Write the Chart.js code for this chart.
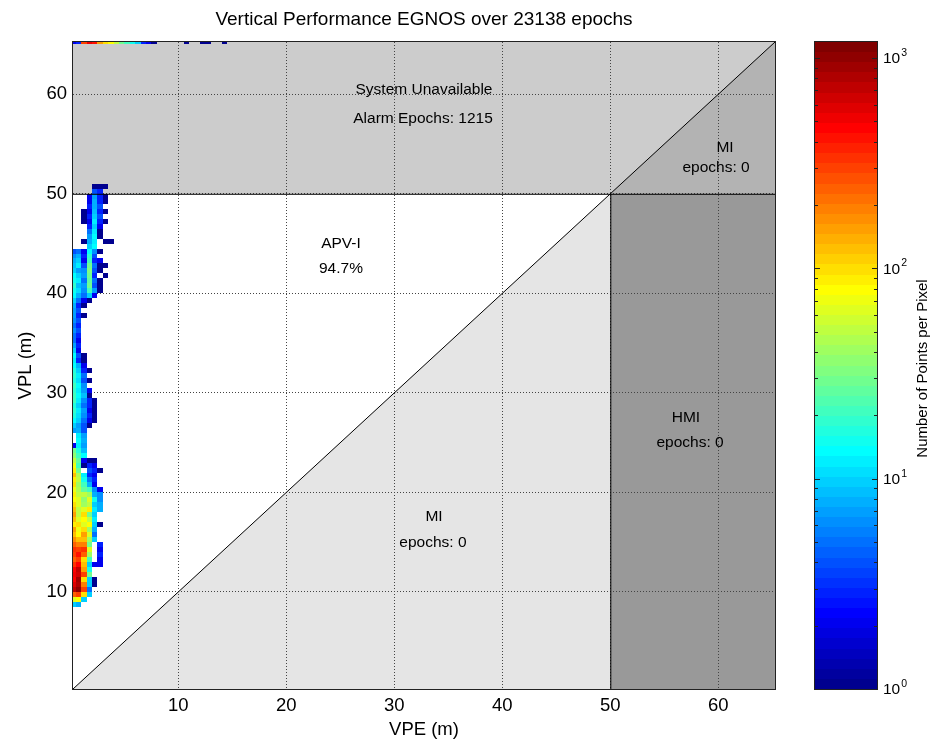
<!DOCTYPE html>
<html><head><meta charset="utf-8">
<script src="https://cdn.jsdelivr.net/npm/chart.js@4.4.1/dist/chart.umd.min.js"></script>
<style>
html,body{margin:0;padding:0;background:#fff;}
#wrap{position:relative;width:937px;height:744px;overflow:hidden;}
#wrap canvas{position:absolute;left:0;top:0;}
</style></head><body>
<div id="wrap"><canvas id="main" width="937" height="744"></canvas><canvas id="cbar" width="937" height="744"></canvas></div>
<script>
// ---------------- data ----------------
const chartTitle = 'Vertical Performance EGNOS over 23138 epochs';
const xLabel = 'VPE (m)';
const yLabel = 'VPL (m)';
const cbarLabel = 'Number of Points per Pixel';
const axisMin = 0.25, axisMax = 65.25;
const alarmLimit = 50;
const xTicks = [10, 20, 30, 40, 50, 60];
const yTicks = [10, 20, 30, 40, 50, 60];
const cbarExponents = [0, 1, 2, 3];
const cbarMin = 1, cbarMax = 1190;
const binSize = 0.5;

// heat map: column lower edges (VPE, m) and row lower edges (VPL, m)
const vpeCols = [0, 0.5, 1.0, 1.5, 2.0, 2.5, 3.0, 3.5];
const vplRows = [50.5, 50.0, 49.5, 49.0, 48.5, 48.0, 47.5, 47.0, 46.5, 46.0,
  45.5, 45.0, 44.5, 44.0, 43.5, 43.0, 42.5, 42.0, 41.5, 41.0,
  40.5, 40.0, 39.5, 39.0, 38.5, 38.0, 37.5, 37.0, 36.5, 36.0,
  35.5, 35.0, 34.5, 34.0, 33.5, 33.0, 32.5, 32.0, 31.5, 31.0,
  30.5, 30.0, 29.5, 29.0, 28.5, 28.0, 27.5, 27.0, 26.5, 26.0,
  25.5, 25.0, 24.5, 24.0, 23.5, 23.0, 22.5, 22.0, 21.5, 21.0,
  20.5, 20.0, 19.5, 19.0, 18.5, 18.0, 17.5, 17.0, 16.5, 16.0,
  15.5, 15.0, 14.5, 14.0, 13.5, 13.0, 12.5, 12.0, 11.5, 11.0,
  10.5, 10.0, 9.5, 9.0, 8.5];
const rowCounts = [
  [0,0,0,0,1,1,1,0],[0,0,0,0,4,3,0,0],[0,0,0,2,7,3,1,0],[0,0,0,2,8,3,1,0],[0,0,0,3,8,4,0,0],
  [0,0,1,2,9,3,1,0],[0,0,1,3,10,4,0,0],[0,0,1,2,12,3,1,0],[0,0,0,3,10,2,0,0],[0,0,0,5,12,1,0,0],
  [0,0,0,7,14,1,0,0],[0,0,1,8,12,0,1,1],[0,0,0,10,14,0,0,0],[4,5,2,14,6,1,0,0],[6,8,3,18,4,0,0,0],
  [8,10,2,22,3,2,0,0],[9,12,4,28,5,1,1,0],[10,7,6,32,4,1,0,0],[13,10,7,30,3,0,1,0],[15,12,5,25,5,1,0,0],
  [18,9,7,28,4,1,0,0],[15,11,6,20,7,1,0,0],[13,8,5,10,2,0,0,0],[10,5,2,1,0,0,0,0],[8,3,1,0,0,0,0,0],
  [7,4,0,0,0,0,0,0],[7,3,1,0,0,0,0,0],[6,4,0,0,0,0,0,0],[5,3,0,0,0,0,0,0],[6,4,0,0,0,0,0,0],
  [5,3,0,0,0,0,0,0],[5,2,0,0,0,0,0,0],[7,3,0,0,0,0,0,0],[10,2,0,0,0,0,0,0],[13,4,1,0,0,0,0,0],
  [12,3,1,0,0,0,0,0],[14,8,2,0,0,0,0,0],[16,10,3,1,0,0,0,0],[18,12,5,0,0,0,0,0],[16,11,4,1,0,0,0,0],
  [20,13,6,0,0,0,0,0],[18,12,7,2,0,0,0,0],[22,14,9,1,0,0,0,0],[20,12,6,3,1,0,0,0],[16,10,5,3,1,0,0,0],
  [18,12,7,2,1,0,0,0],[16,11,6,3,1,0,0,0],[13,10,5,2,1,0,0,0],[10,7,4,1,0,0,0,0],[7,8,4,0,0,0,0,0],
  [0,12,7,0,0,0,0,0],[0,14,8,0,0,0,0,0],[2,12,7,0,0,0,0,0],[28,17,9,0,0,0,0,0],[38,22,13,0,0,0,0,0],
  [50,25,2,1,1,0,0,0],[70,20,1,3,2,0,0,0],[90,30,0,4,3,1,0,0],[120,45,12,3,2,0,0,0],[90,50,15,5,3,0,0,0],
  [100,40,20,8,2,0,0,0],[70,45,25,20,6,2,0,0],[90,50,50,40,8,6,0,0],[80,60,35,60,15,6,0,0],[100,60,40,50,10,8,0,0],
  [120,50,60,90,12,8,0,0],[150,50,100,30,10,0,0,0],[130,60,80,50,12,0,0,0],[90,100,60,80,10,1,0,0],[150,70,100,40,8,0,0,0],
  [120,80,150,60,5,0,0,0],[180,120,120,40,10,0,0,0],[250,200,200,30,0,3,0,0],[350,300,350,60,0,2,0,0],[300,400,250,40,0,3,0,0],
  [250,300,100,20,0,2,0,0],[350,450,120,10,2,2,0,0],[450,700,150,15,0,0,0,0],[500,650,300,30,0,0,0,0],[450,900,100,10,1,0,0,0],
  [550,800,200,10,1,0,0,0],[700,1000,300,5,0,0,0,0],[250,300,100,10,0,0,0,0],[60,80,10,0,0,0,0,0],[10,8,0,0,0,0,0,0]
];
// points beyond the plot top, clipped into the VPL = 65 row
const topRowVpl = 65;
const topVpe = [0, 0.5, 1.0, 1.5, 2.0, 2.5, 3.0, 3.5, 4.0, 4.5, 5.0, 5.5, 6.0, 6.5, 7.0, 7.5, 10.5, 12.0, 12.5, 14.0];
const topCounts = [2, 3, 300, 500, 400, 150, 100, 80, 50, 30, 20, 15, 10, 3, 2, 1, 1, 1, 1, 1];

// region annotations
const noteTexts = ['System Unavailable', 'Alarm Epochs: 1215', 'APV-I', '94.7%', 'MI', 'epochs: 0', 'HMI', 'epochs: 0', 'MI', 'epochs: 0'];
const noteVpe = [32.75, 32.66, 25.06, 25.06, 60.62, 59.79, 57.0, 57.38, 33.68, 33.58];
const noteVpl = [60.6, 57.6, 45.06, 42.55, 54.7, 52.69, 27.57, 25.06, 17.63, 15.02];

// ---------------- helpers ----------------
const FONT = '"Liberation Sans", Arial, Helvetica, sans-serif';
function jetMap(n) {
  const m = Math.ceil(n / 4);
  const u = [];
  for (let i = 1; i <= m; i++) u.push(i / m);
  for (let i = 1; i < m; i++) u.push(1);
  for (let i = m; i >= 1; i--) u.push(i / m);
  const off = Math.ceil(m / 2) - (n % 4 === 1 ? 1 : 0);
  const J = Array.from({length: n}, () => [0, 0, 0]);
  u.forEach((val, i) => {
    const g = off + i + 1, r = g + m, b = g - m;
    if (r >= 1 && r <= n) J[r - 1][0] = val;
    if (g >= 1 && g <= n) J[g - 1][1] = val;
    if (b >= 1 && b <= n) J[b - 1][2] = val;
  });
  return J.map(c => `rgb(${Math.round(c[0]*255)},${Math.round(c[1]*255)},${Math.round(c[2]*255)})`);
}
const JET = jetMap(64);
const LMAX = Math.log10(cbarMax);
function colorFor(c) {
  const t = Math.log10(c) / LMAX;
  return JET[Math.max(0, Math.min(63, Math.floor(t * 64)))];
}

// ---------------- main chart ----------------
const regionPlugin = {
  id: 'regions',
  beforeDraw(chart) {
    const {ctx, scales: {x, y}} = chart;
    ctx.save();
    ctx.fillStyle = '#fff';
    ctx.fillRect(0, 0, chart.width, chart.height);
    const poly = (pts, col) => {
      ctx.beginPath();
      pts.forEach((p, i) => {
        const px = x.getPixelForValue(p[0]), py = y.getPixelForValue(p[1]);
        if (i) ctx.lineTo(px, py); else ctx.moveTo(px, py);
      });
      ctx.closePath(); ctx.fillStyle = col; ctx.fill();
    };
    const L = alarmLimit;
    poly([[axisMin, L], [axisMax, L], [axisMax, axisMax], [axisMin, axisMax]], '#cccccc');
    poly([[L, L], [axisMax, axisMax], [axisMax, L]], '#b3b3b3');
    poly([[axisMin, axisMin], [L, L], [L, axisMin]], '#e5e5e5');
    poly([[L, axisMin], [axisMax, axisMin], [axisMax, L], [L, L]], '#999999');
    ctx.restore();
  },
  beforeDatasetsDraw(chart) {
    const {ctx, chartArea: a, scales: {x, y}} = chart;
    ctx.save();
    ctx.beginPath(); ctx.rect(a.left, a.top, a.right - a.left, a.bottom - a.top); ctx.clip();
    const cell = (u, v, c) => {
      if (!c) return;
      const x0 = Math.round(x.getPixelForValue(u)), x1 = Math.round(x.getPixelForValue(u + binSize));
      const y0 = Math.round(y.getPixelForValue(v + binSize)), y1 = Math.round(y.getPixelForValue(v));
      ctx.fillStyle = colorFor(c);
      ctx.fillRect(x0, y0, x1 - x0, y1 - y0);
    };
    vplRows.forEach((v, r) => rowCounts[r].forEach((c, k) => cell(vpeCols[k], v, c)));
    topVpe.forEach((u, i) => cell(u, topRowVpl, topCounts[i]));
    ctx.restore();
  },
  afterDatasetsDraw(chart) {
    const {ctx, chartArea: a, scales: {x, y}} = chart;
    const L = alarmLimit;
    ctx.save();
    ctx.strokeStyle = '#000'; ctx.lineWidth = 1;
    const line = (p, q) => {
      ctx.beginPath();
      ctx.moveTo(x.getPixelForValue(p[0]), y.getPixelForValue(p[1]));
      ctx.lineTo(x.getPixelForValue(q[0]), y.getPixelForValue(q[1]));
      ctx.stroke();
    };
    line([axisMin, axisMin], [axisMax, axisMax]);
    ctx.translate(0, 0.5);
    line([axisMin, L], [axisMax, L]);
    ctx.translate(0.5, -0.5);
    line([L, axisMin], [L, L]);
    ctx.restore();
    // annotations
    ctx.save();
    ctx.fillStyle = '#000';
    ctx.font = '15.5px ' + FONT;
    ctx.textAlign = 'center'; ctx.textBaseline = 'middle';
    noteTexts.forEach((t, i) => ctx.fillText(t, x.getPixelForValue(noteVpe[i]), y.getPixelForValue(noteVpl[i]) + 1));
    ctx.restore();
  },
  afterDraw(chart) {
    const {ctx, chartArea: a} = chart;
    ctx.save();
    ctx.strokeStyle = '#222'; ctx.lineWidth = 1;
    ctx.strokeRect(Math.round(a.left) - 0.5, Math.round(a.top) - 0.5, Math.round(a.right - a.left) + 1, Math.round(a.bottom - a.top) + 1);
    ctx.fillStyle = '#000';
    ctx.font = '19px ' + FONT;
    ctx.textAlign = 'center'; ctx.textBaseline = 'alphabetic';
    ctx.fillText(chartTitle, (a.left + a.right) / 2, 25);
    ctx.restore();
  }
};

const gridOpts = {color: '#444', lineWidth: 1, drawTicks: false};
const tickFont = {family: FONT, size: 18.5};
new Chart(document.getElementById('main'), {
  type: 'scatter',
  data: {datasets: [{data: [], pointRadius: 0}]},
  options: {
    responsive: false, animation: false, devicePixelRatio: 1,
    layout: {padding: {top: 42, right: 162, left: 0, bottom: 0}},
    plugins: {legend: {display: false}, tooltip: {enabled: false}, title: {display: false}},
    scales: {
      x: {
        type: 'linear', min: axisMin, max: axisMax,
        afterBuildTicks: s => { s.ticks = xTicks.map(v => ({value: v})); },
        afterFit: s => { s.height = 55; },
        grid: gridOpts, border: {display: false, dash: [1, 2]},
        ticks: {color: '#000', font: tickFont, padding: 6, maxRotation: 0},
        title: {display: true, text: xLabel, color: '#000', font: {family: FONT, size: 18.5}, padding: {top: 0, bottom: 3}}
      },
      y: {
        type: 'linear', min: axisMin, max: axisMax,
        afterBuildTicks: s => { s.ticks = yTicks.map(v => ({value: v})); },
        afterFit: s => { s.width = 73; },
        grid: gridOpts, border: {display: false, dash: [1, 2]},
        ticks: {color: '#000', font: tickFont, padding: 6},
        title: {display: true, text: yLabel, color: '#000', font: {family: FONT, size: 18.5}, padding: {top: 15, bottom: 0}}
      }
    }
  },
  plugins: [regionPlugin]
});

// ---------------- colour bar ----------------
const cbarPlugin = {
  id: 'cbar',
  beforeDatasetsDraw(chart) {
    const {ctx, chartArea: a, scales: {y}} = chart;
    ctx.save();
    for (let k = 0; k < 64; k++) {
      const yTop = Math.round(y.getPixelForValue(Math.pow(10, (k + 1) / 64 * LMAX)));
      const yBot = Math.round(y.getPixelForValue(Math.pow(10, k / 64 * LMAX)));
      ctx.fillStyle = JET[k];
      ctx.fillRect(Math.round(a.left), yTop, Math.round(a.right - a.left), yBot - yTop);
    }
    // ticks
    ctx.strokeStyle = '#222'; ctx.lineWidth = 1;
    const L = Math.round(a.left), R = Math.round(a.right);
    for (let e = 0; e <= 3; e++) {
      for (let m = 1; m <= 9; m++) {
        const v = m * Math.pow(10, e);
        if (v <= cbarMin || v > cbarMax) continue;
        const py = Math.round(y.getPixelForValue(v)) + 0.5;
        const len = m === 1 ? 5 : 3;
        ctx.beginPath();
        ctx.moveTo(L, py); ctx.lineTo(L + len, py);
        ctx.moveTo(R, py); ctx.lineTo(R - len, py);
        ctx.stroke();
      }
    }
    ctx.strokeRect(L - 0.5, Math.round(a.top) - 0.5, R - L + 1, Math.round(a.bottom - a.top) + 1);
    // labels 10^e
    ctx.fillStyle = '#000';
    ctx.textAlign = 'left';
    cbarExponents.forEach(e => {
      const py = y.getPixelForValue(Math.pow(10, e));
      ctx.font = '15.5px ' + FONT; ctx.textBaseline = 'middle';
      ctx.fillText('10', R + 6, py + 1);
      const w = ctx.measureText('10').width;
      ctx.font = '10.5px ' + FONT; ctx.textBaseline = 'alphabetic';
      ctx.fillText(String(e), R + 6 + w + 1, py - 2);
    });
    // title
    ctx.translate(923, (a.top + a.bottom) / 2 + 3);
    ctx.rotate(-Math.PI / 2);
    ctx.font = '15px ' + FONT; ctx.textAlign = 'center'; ctx.textBaseline = 'middle';
    ctx.fillText(cbarLabel, 0, 0);
    ctx.restore();
  }
};
new Chart(document.getElementById('cbar'), {
  type: 'scatter',
  data: {datasets: [{data: [], pointRadius: 0}]},
  options: {
    responsive: false, animation: false, devicePixelRatio: 1,
    layout: {padding: {top: 42, right: 0, left: 815, bottom: 55}},
    plugins: {legend: {display: false}, tooltip: {enabled: false}},
    scales: {
      x: {type: 'linear', display: false},
      y: {
        type: 'logarithmic', position: 'right', min: cbarMin, max: cbarMax,
        afterFit: s => { s.width = 60; },
        grid: {display: false}, border: {display: false},
        ticks: {display: false}
      }
    }
  },
  plugins: [cbarPlugin]
});
</script>
</body></html>
